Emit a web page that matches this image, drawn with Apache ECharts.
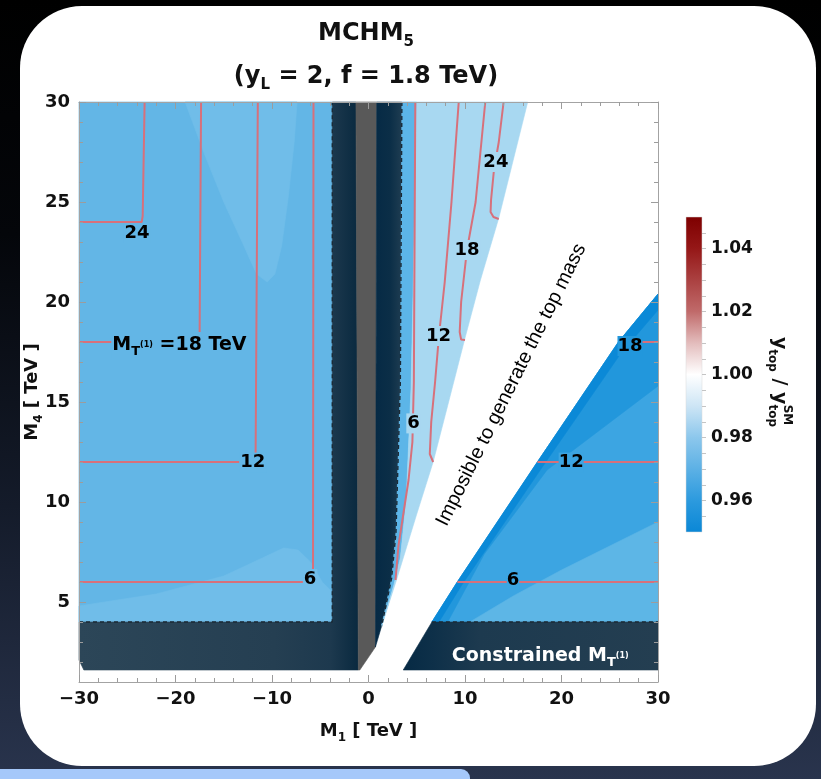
<!DOCTYPE html>
<html>
<head>
<meta charset="utf-8">
<title>MCHM5 top Yukawa</title>
<script src="https://cdn.jsdelivr.net/npm/echarts@6/dist/echarts.min.js"></script>
<style>
  html, body { margin: 0; padding: 0; width: 821px; height: 779px; overflow: hidden; }
  body { background: linear-gradient(180deg, #000000 0%, #04060a 30%, #141b2a 65%, #29344d 100%); position: relative; }
  .card { position: absolute; left: 20px; top: 6px; width: 796px; height: 760px; background: #ffffff; border-radius: 62px; }
  .strip { position: absolute; left: 0; top: 769px; width: 470px; height: 10px; background: #a5c8fa; border-top-right-radius: 9px; }
  #chart { position: absolute; left: 0; top: 0; width: 821px; height: 779px; }
</style>
</head>
<body>
<div class="card"></div>
<div class="strip"></div>
<div id="chart"></div>
<script>
// ---- axis ticks ----
const yMajorTicks = [5, 10, 15, 20, 25, 30];
const yMinorTicks = [2, 3, 4, 6, 7, 8, 9, 11, 12, 13, 14, 16, 17, 18, 19, 21, 22, 23, 24, 26, 27, 28, 29];
const barLabels = [0.96, 0.98, 1.00, 1.02, 1.04];
const barTicks = [0.955, 0.96, 0.965, 0.97, 0.975, 0.98, 0.985, 0.99, 0.995, 1.00,
                  1.005, 1.01, 1.015, 1.02, 1.025, 1.03, 1.035, 1.04, 1.045];
const barRange = [0.95, 1.05];
const barStops = [1.05, 1.04, 1.02, 1.01, 1.00, 0.99, 0.98, 0.96, 0.95];

// ---- region outlines in the (M1, M4) plane, TeV ----
const leftPanel = [[-30, 4], [-3.75, 4], [-3.75, 30], [-30, 30]];
const leftUpperPatch = [[-19, 30], [-17, 27.4], [-15, 25], [-13, 22.9], [-11.6, 21.4], [-10.5, 21.0],
                        [-9.7, 21.4], [-9.0, 22.8], [-8.3, 25.3], [-7.7, 28], [-7.4, 30]];
const leftLowerPatch = [[-30, 4], [-30, 4.8], [-22, 5.4], [-15, 6.3], [-11, 7.2], [-8.8, 7.7],
                        [-7.3, 7.6], [-6, 7.0], [-4.8, 6.0], [-3.75, 5.5], [-3.75, 4]];
const leftConstrained = [[-30, 4], [-3.75, 4], [-3.75, 30], [-1.3, 30], [-1.05, 1.6], [-29.5, 1.6], [-30, 2.1]];
const grayBand = [[-1.3, 30], [0.85, 30], [0.72, 2.75], [-0.9, 1.6], [-1.05, 1.6]];
const rightConstrained = [[0.85, 30], [3.46, 30], [3.3, 16], [2.85, 8.5], [2.4, 6.2], [1.8, 4.8], [1.35, 3.78], [0.72, 2.75]];
const midStripe = [[3.46, 30], [5.0, 30], [4.6, 20], [4.4, 15.6], [3.9, 10], [3.3, 7.2], [2.6, 5.8], [1.35, 3.78],
                   [1.8, 4.8], [2.4, 6.2], [2.85, 8.5], [3.3, 16]];
const midLight = [[5.0, 30], [16.5, 30], [13.5, 24.2], [11.6, 21.1], [10.0, 18.2], [8.3, 15], [6.7, 12],
                  [5.0, 9.4], [2.9, 6.1], [1.35, 3.78], [2.6, 5.8], [3.3, 7.2], [3.9, 10], [4.4, 15.6], [4.6, 20]];
const lowerPanel = [[6.57, 4], [9.2, 6], [17.5, 12], [25.9, 18], [30, 20.4], [30, 4]];
const lowerBand = [[6.57, 4], [9.2, 6], [17.5, 12], [25.9, 18], [30, 20.4], [30, 15.8], [18.5, 11.6], [12, 7.4], [8.2, 4]];
const lowerEdge = [[6.57, 4], [9.2, 6], [17.5, 12], [25.9, 18], [30, 20.4], [30, 19.6], [26.1, 17.4], [17.8, 11.6], [9.6, 5.8], [7.3, 4]];
const lowerFar = [[10.5, 4], [15, 5.3], [20, 6.6], [25, 7.8], [30, 9.0], [30, 4]];
const lowerConstrained = [[3.6, 1.6], [30, 1.6], [30, 4], [6.57, 4]];

// ---- contours of M_T(1) ----
const left24 = [[-30, 24], [-23.5, 24], [-23.4, 24.3], [-23.2, 30]];
const left18 = [[-30, 18], [-17.55, 18], [-17.5, 18.4], [-17.35, 30]];
const left12 = [[-30, 12], [-12.0, 12], [-11.7, 12.4], [-11.65, 16], [-11.47, 30]];
const left6 = [[-30, 6], [-5.8, 6], [-5.75, 6.3], [-5.7, 30]];
const mid6 = [[4.85, 30], [4.7, 16], [4.55, 13], [4.15, 11.1], [3.1, 7.8], [2.8, 6.1]];
const mid12 = [[9.35, 30], [8.6, 25], [7.9, 21], [7.3, 18.3], [6.9, 16], [6.5, 14], [6.35, 12.4], [6.7, 12.0]];
const mid18 = [[12.1, 30], [11.1, 25], [10.2, 22.6], [9.6, 20], [9.45, 18.5], [9.6, 18.12], [10.0, 18.1]];
const mid24 = [[14.0, 30], [13.5, 28], [13.0, 26.6], [12.7, 25.1], [12.65, 24.5], [12.95, 24.25], [13.5, 24.15]];
const low6 = [[9.2, 6], [30, 6]];
const low12 = [[17.5, 12], [30, 12]];
const low18 = [[25.9, 18], [30, 18]];

// ---- boundaries of the excluded strips ----
const leftLimit = [[-30, 4], [-3.75, 4], [-3.75, 30]];
const rightLimit = [[3.46, 30], [3.3, 16], [2.85, 8.5], [2.4, 6.2], [1.8, 4.8], [1.35, 3.78]];
const lowerLimit = [[6.57, 4], [30, 4]];

// ---- contour labels [M1, M4, text] ----
const leftLabels = [[-24.0, 23.45, '24'], [-12.0, 11.97, '12']];
const leftLowLabels = [[-6.05, 6.15, '6']];
const leftNamed = [[-19.6, 17.85, '18']];
const midLabels = [[4.67, 13.93, '6'], [7.26, 18.3, '12'], [10.2, 22.6, '18'], [13.2, 27.0, '24']];
const lowLabels = [[14.97, 6.1, '6'], [21.0, 11.97, '12']];
const lowBandLabels = [[27.1, 17.8, '18']];
const wedgeNote = [[14.8, 15.85, 'Imposible to generate the top mass']];
const constrainedNote = [[17.8, 2.3, 'Constrained M']];

const FONT = "'DejaVu Sans', 'Liberation Sans', sans-serif";
const CONTOUR = '#d7707b';

function hGrad(stops) {
  return new echarts.graphic.LinearGradient(0, 0, 1, 0, stops.map(s => ({ offset: s[0], color: s[1] })));
}

function area(points, fill, z) {
  return {
    type: 'custom', coordinateSystem: 'cartesian2d', xAxisIndex: 0, yAxisIndex: 0,
    silent: true, z: z, data: points, encode: { x: 0, y: 1 },
    renderItem: function (params, api) {
      if (params.dataIndex !== 0) return;
      const pts = points.map(p => api.coord(p));
      return { type: 'polygon', shape: { points: pts }, style: { fill: fill, stroke: fill, lineWidth: 0.6 } };
    }
  };
}

function path(points, color, width, type, z) {
  return {
    type: 'line', data: points, xAxisIndex: 0, yAxisIndex: 0, symbol: 'none', silent: true, z: z,
    lineStyle: { color: color, width: width, type: type }, clip: true
  };
}

function labels(items, bg, z, extra) {
  return {
    type: 'scatter', data: items, xAxisIndex: 0, yAxisIndex: 0, symbolSize: 1, silent: true, z: z,
    itemStyle: { color: 'rgba(0,0,0,0)', opacity: 1 },
    label: Object.assign({
      show: true, position: 'inside', formatter: p => p.data[2], opacity: 1, textBorderWidth: 0,
      fontFamily: FONT, fontWeight: 'bold', fontSize: 18, color: '#000',
      backgroundColor: bg, padding: [0, 1], lineHeight: 20
    }, extra || {})
  };
}

const sub = (size, color) => ({ fontFamily: FONT, fontWeight: 'bold', fontSize: size, lineHeight: size, verticalAlign: 'bottom', color: color });
const base = (size, lh, color) => ({ fontFamily: FONT, fontWeight: 'bold', fontSize: size, lineHeight: lh, color: color });

const chart = echarts.init(document.getElementById('chart'), null, { renderer: 'canvas' });

const axisGray = '#a3a3a3';
const tickStyle = { color: '#9c9c9c', width: 1 };

function yAxisLine(position, ticks, length, showLine) {
  return { gridIndex: 0, type: 'value', min: 1, max: 30, position: position, z: 20,
    axisLine: { show: showLine, onZero: false, lineStyle: { color: axisGray, width: 1 } },
    axisTick: { show: true, inside: true, length: length, customValues: ticks, lineStyle: tickStyle },
    axisLabel: { show: false }, splitLine: { show: false } };
}

const option = {
  animation: false,
  title: [
    { text: '{a|MCHM}{s|5}', left: 366, top: 18, padding: 0, textAlign: 'center',
      textStyle: { rich: { a: base(24, 32, '#111'), s: sub(15, '#111') } } },
    { text: '{a|(y}{s|L}{a| = 2, f = 1.8 TeV)}', left: 366, top: 61, padding: 0, textAlign: 'center',
      textStyle: { rich: { a: base(24, 32, '#111'), s: sub(15, '#111') } } }
  ],
  grid: [
    { left: 79, right: 163, top: 102, bottom: 97 },
    { left: 686, top: 217, width: 16, height: 315 }
  ],
  xAxis: [
    { gridIndex: 0, type: 'value', min: -30, max: 30, interval: 10, position: 'bottom', z: 20,
      axisLine: { show: true, onZero: false, lineStyle: { color: axisGray, width: 1 } },
      axisTick: { show: true, inside: true, length: 7, lineStyle: tickStyle },
      minorTick: { show: true, splitNumber: 5, length: 4, lineStyle: tickStyle },
      splitLine: { show: false },
      axisLabel: { margin: 8, fontFamily: FONT, fontWeight: 'bold', fontSize: 18, color: '#111',
        formatter: v => (v < 0 ? '\u2212' + Math.abs(v) : String(v)) },
      name: '{a|M}{s|1}{a| [ TeV ]}', nameLocation: 'middle', nameGap: 36, nameMoveOverlap: false,
      nameTextStyle: { rich: { a: base(18, 26, '#111'), s: sub(12, '#111') } } },
    { gridIndex: 0, type: 'value', min: -30, max: 30, interval: 10, position: 'top', z: 20,
      axisLine: { show: true, onZero: false, lineStyle: { color: axisGray, width: 1 } },
      axisTick: { show: true, inside: true, length: 7, lineStyle: tickStyle },
      minorTick: { show: true, splitNumber: 5, length: 4, lineStyle: tickStyle },
      splitLine: { show: false }, axisLabel: { show: false } },
    { gridIndex: 1, type: 'value', min: 0, max: 1, show: false }
  ],
  yAxis: [
    { gridIndex: 0, type: 'value', min: 1, max: 30, position: 'left', z: 20,
      axisLine: { show: true, onZero: false, lineStyle: { color: axisGray, width: 1 } },
      axisTick: { show: true, inside: true, length: 7, customValues: yMajorTicks, lineStyle: tickStyle },
      axisLabel: { customValues: yMajorTicks, margin: 9, fontFamily: FONT, fontWeight: 'bold', fontSize: 18, color: '#111' },
      splitLine: { show: false },
      name: '{a|M}{s|4}{a| [ TeV ]}', nameLocation: 'middle', nameGap: 34, nameRotate: 90, nameMoveOverlap: false,
      nameTextStyle: { rich: { a: base(18, 26, '#111'), s: sub(12, '#111') } } },
    yAxisLine('left', yMinorTicks, 4, false),
    yAxisLine('right', yMajorTicks, 7, true),
    yAxisLine('right', yMinorTicks, 4, false),
    { gridIndex: 1, type: 'value', min: barRange[0], max: barRange[1], position: 'right', z: 20,
      axisLine: { show: false, onZero: false },
      axisTick: { show: true, inside: false, length: 4, customValues: barTicks, lineStyle: { color: '#c4c4c4', width: 1 } },
      axisLabel: { customValues: barLabels, margin: 9, fontFamily: FONT, fontWeight: 'bold', fontSize: 17, color: '#111',
        formatter: v => v.toFixed(2) },
      splitLine: { show: false } }
  ],
  graphic: [
    { type: 'group', x: 779, y: 382, rotation: -Math.PI / 2, z: 30,
      children: [
        { type: 'text', x: 0, y: 0,
          style: { text: '{y|y}{s|top}{y| / y}{s|top}', align: 'center', verticalAlign: 'middle',
            rich: { y: { fontFamily: FONT, fontWeight: 'bold', fontSize: 19, lineHeight: 26, fill: '#111' },
                    s: { fontFamily: FONT, fontWeight: 'bold', fontSize: 12, lineHeight: 12, verticalAlign: 'bottom', fill: '#111' } } } },
        { type: 'text', x: 33, y: -8,
          style: { text: 'SM', align: 'center', verticalAlign: 'middle', fill: '#111',
            font: "bold 12px 'DejaVu Sans', sans-serif" } }
      ] }
  ],
  series: [
    // colour scale
    {
      type: 'custom', coordinateSystem: 'cartesian2d', xAxisIndex: 2, yAxisIndex: 4, silent: true, z: 5,
      data: [[0, barRange[0]], [1, barRange[1]]], encode: { x: 0, y: 1 },
      renderItem: function (params, api) {
        if (params.dataIndex !== 0) return;
        const a = api.coord([0, barRange[1]]);
        const b = api.coord([1, barRange[0]]);
        const cols = ['#7e0000', '#951717', '#c06a6a', '#e3bcbc', '#ffffff', '#cde5f5', '#8cc7ec', '#2c9ade', '#0a87d6'];
        const span = barRange[1] - barRange[0];
        const stops = barStops.map((v, i) => ({ offset: (barRange[1] - v) / span, color: cols[i] }));
        return { type: 'rect', shape: { x: a[0], y: a[1], width: b[0] - a[0], height: b[1] - a[1] },
          style: { fill: new echarts.graphic.LinearGradient(0, 0, 0, 1, stops), stroke: '#d8d8d8', lineWidth: 0.5 } };
      }
    },
    // allowed regions
    area(leftPanel, '#63b6e6', 1),
    area(leftUpperPatch, '#70bde9', 2),
    area(leftLowerPatch, '#70bde9', 2),
    area(leftConstrained, hGrad([[0, '#2c4658'], [0.7, '#253f52'], [0.9, '#1d394e'], [1, '#09293f']]), 3),
    area(grayBand, '#595959', 3),
    area(rightConstrained, hGrad([[0, '#062a45'], [0.55, '#0b2e47'], [1, '#1f3d52']]), 3),
    area(midStripe, '#5cb5e8', 3),
    area(midLight, '#a8d8f1', 3),
    area(lowerPanel, '#3ca5e2', 1),
    area(lowerFar, '#5db6e6', 2),
    area(lowerBand, '#2297dc', 2),
    area(lowerEdge, '#0b89d7', 3),
    area(lowerConstrained, hGrad([[0, '#062a44'], [0.12, '#0e3049'], [0.3, '#1d3a4f'], [1, '#243e51']]), 3),
    // excluded-region boundaries
    path(leftLimit, '#1b2a36', 1.4, [4, 3], 6),
    path(rightLimit, '#1b2a36', 1.4, [4, 3], 6),
    path(lowerLimit, '#1b2a36', 1.4, [4, 3], 6),
    // M_T(1) contours
    path(left24, CONTOUR, 2, 'solid', 7),
    path(left18, CONTOUR, 2, 'solid', 7),
    path(left12, CONTOUR, 2, 'solid', 7),
    path(left6, CONTOUR, 2, 'solid', 7),
    path(mid6, CONTOUR, 2, 'solid', 7),
    path(mid12, CONTOUR, 2, 'solid', 7),
    path(mid18, CONTOUR, 2, 'solid', 7),
    path(mid24, CONTOUR, 2, 'solid', 7),
    path(low6, CONTOUR, 2, 'solid', 7),
    path(low12, CONTOUR, 2, 'solid', 7),
    path(low18, CONTOUR, 2, 'solid', 7),
    // labels
    labels(leftLabels, '#63b6e6', 9),
    labels(leftLowLabels, '#70bde9', 9),
    labels(leftNamed, '#63b6e6', 9, {
      formatter: p => '{m|M}{t|T}{s|(1)}{m| =' + p.data[2] + ' TeV}',
      rich: { m: base(19, 26, '#000'), t: sub(13, '#000'), s: { fontFamily: FONT, fontWeight: 'bold', fontSize: 8, color: '#000' } }
    }),
    labels(midLabels, '#a8d8f1', 9),
    labels(lowLabels, '#3ca5e2', 9, { padding: 0 }),
    labels(lowBandLabels, '#2297dc', 9, { padding: 0 }),
    labels(wedgeNote, null, 9, { fontFamily: "'Liberation Sans', Arial, sans-serif", fontWeight: 'normal', fontSize: 20, color: '#000', rotate: 63.5 }),
    labels(constrainedNote, null, 9, {
      formatter: p => '{m|' + p.data[2] + '}{t|T}{s|(1)}',
      rich: { m: base(19, 26, '#ffffff'), t: sub(13, '#ffffff'), s: { fontFamily: FONT, fontWeight: 'bold', fontSize: 8, color: '#ffffff' } }
    })
  ]
};

chart.setOption(option);
</script>
</body>
</html>
